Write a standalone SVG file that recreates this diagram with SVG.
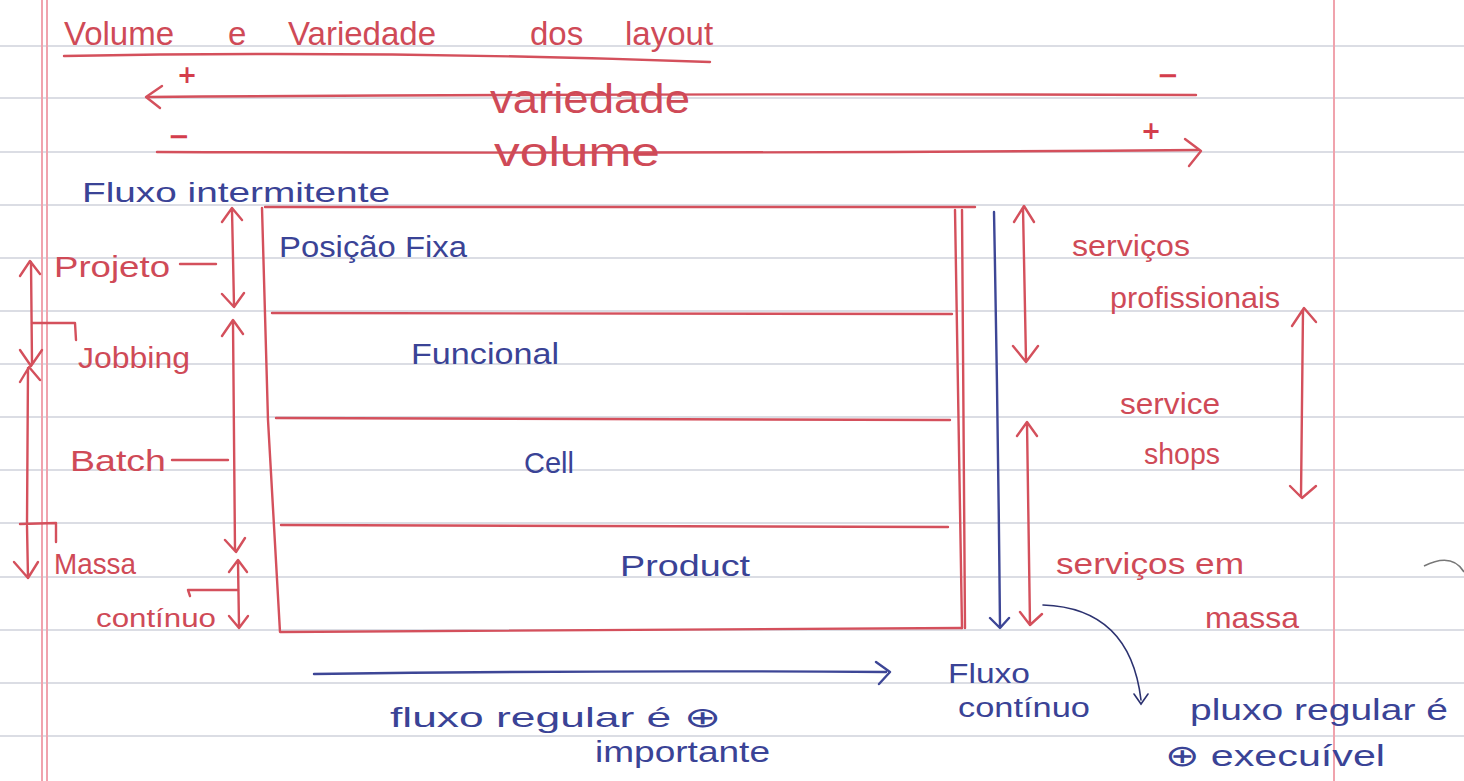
<svg xmlns="http://www.w3.org/2000/svg" width="1464" height="781" viewBox="0 0 1464 781">
<defs>
<style>
.rule{stroke:#9aa0b4;stroke-width:1;opacity:0.7}
.margin{stroke:#f0a3ad;stroke-width:2}
.r{fill:none;stroke:#d4505c;stroke-width:2.4;stroke-linecap:round;stroke-linejoin:round}
.b{fill:none;stroke:#3d4696;stroke-width:2.4;stroke-linecap:round;stroke-linejoin:round}
.bt{fill:none;stroke:#2c3270;stroke-width:1.6;stroke-linecap:round}
.tr{fill:#cf4a57;font-family:"Liberation Sans",Arial,sans-serif;font-weight:300}
.tb{fill:#3a4396;font-family:"Liberation Sans",Arial,sans-serif;font-weight:300}
.lbl{font-size:29px}
.sign{font-family:"DejaVu Sans",sans-serif;font-weight:bold;fill:#d43d4c}
</style>
</defs>
<rect width="1464" height="781" fill="#ffffff"/>
<g id="paper">
<line class="rule" x1="0" y1="46" x2="1464" y2="46"/>
<line class="rule" x1="0" y1="98" x2="1464" y2="98"/>
<line class="rule" x1="0" y1="152" x2="1464" y2="152"/>
<line class="rule" x1="0" y1="205" x2="1464" y2="205"/>
<line class="rule" x1="0" y1="258" x2="1464" y2="258"/>
<line class="rule" x1="0" y1="311" x2="1464" y2="311"/>
<line class="rule" x1="0" y1="364" x2="1464" y2="364"/>
<line class="rule" x1="0" y1="417" x2="1464" y2="417"/>
<line class="rule" x1="0" y1="470" x2="1464" y2="470"/>
<line class="rule" x1="0" y1="523" x2="1464" y2="523"/>
<line class="rule" x1="0" y1="577" x2="1464" y2="577"/>
<line class="rule" x1="0" y1="630" x2="1464" y2="630"/>
<line class="rule" x1="0" y1="683" x2="1464" y2="683"/>
<line class="rule" x1="0" y1="736" x2="1464" y2="736"/>
<line class="margin" x1="42" y1="0" x2="42" y2="781"/>
<line class="margin" x1="47" y1="0" x2="47" y2="781"/>
<line class="margin" x1="1334" y1="0" x2="1334" y2="781"/>
<path d="M1424 566 Q1452 552 1464 572" fill="none" stroke="#777" stroke-width="1.5"/>
</g>
<g id="title">
<text class="tr" y="45" font-size="33"><tspan x="64">Volume</tspan><tspan x="228">e</tspan><tspan x="288">Variedade</tspan><tspan x="530">dos</tspan><tspan x="625">layout</tspan></text>
<path class="r" d="M64 56 Q380 50 710 62" stroke-width="2"/>
</g>
<g id="scales">
<text class="sign" x="177" y="83" font-size="24">+</text>
<text class="sign" x="1157" y="84" font-size="26">−</text>
<path class="r" d="M1196 95 Q700 93 148 97"/>
<path class="r" d="M162 86 L146 97 L160 108"/>
<text class="tr" x="490" y="113" font-size="40" textLength="200" lengthAdjust="spacingAndGlyphs">variedade</text>
<text class="sign" x="168" y="145" font-size="26">−</text>
<text class="sign" x="1141" y="139" font-size="24">+</text>
<path class="r" d="M157 152 Q700 154 1198 150"/>
<path class="r" d="M1185 139 L1201 151 L1189 166"/>
<text class="tr" x="494" y="166" font-size="40" textLength="166" lengthAdjust="spacingAndGlyphs">volume</text>
</g>
<g id="fluxo-intermitente">
<text class="tb" x="82" y="202" font-size="28" textLength="308" lengthAdjust="spacingAndGlyphs">Fluxo  intermitente</text>
</g>
<g id="layout-box">
<path class="r" d="M265 207 L975 207"/>
<path class="r" d="M262 208 L268 420 L280 632 L962 628"/>
<path class="r" d="M955 210 L962 628 M962 210 L965 628" stroke-width="1.8"/>
<path class="r" d="M272 313 L952 314" stroke-width="1.8"/>
<path class="r" d="M276 418 L950 420" stroke-width="1.8"/>
<path class="r" d="M281 525 L948 527" stroke-width="1.8"/>
</g>
<g id="node-posicao-fixa"><text class="tb lbl" x="279" y="257" textLength="188" lengthAdjust="spacingAndGlyphs">Posição Fixa</text></g>
<g id="node-funcional"><text class="tb lbl" x="411" y="364" textLength="148" lengthAdjust="spacingAndGlyphs">Funcional</text></g>
<g id="node-cell"><text class="tb lbl" x="524" y="473" font-size="31" textLength="50" lengthAdjust="spacingAndGlyphs">Cell</text></g>
<g id="node-product"><text class="tb lbl" x="620" y="576" textLength="130" lengthAdjust="spacingAndGlyphs">Product</text></g>
<g id="labels-left">
<text class="tr lbl" x="54" y="277" textLength="116" lengthAdjust="spacingAndGlyphs">Projeto</text>
<text class="tr lbl" x="78" y="368" textLength="112" lengthAdjust="spacingAndGlyphs">Jobbing</text>
<text class="tr lbl" x="70" y="471" textLength="96" lengthAdjust="spacingAndGlyphs">Batch</text>
<text class="tr lbl" x="54" y="574" textLength="82" lengthAdjust="spacingAndGlyphs">Massa</text>
<text class="tr" x="96" y="627" font-size="25" textLength="120" lengthAdjust="spacingAndGlyphs">contínuo</text>
</g>
<g id="labels-right">
<text class="tr lbl" x="1072" y="256" textLength="118" lengthAdjust="spacingAndGlyphs">serviços</text>
<text class="tr lbl" x="1110" y="308" textLength="170" lengthAdjust="spacingAndGlyphs">profissionais</text>
<text class="tr lbl" x="1120" y="414" textLength="100" lengthAdjust="spacingAndGlyphs">service</text>
<text class="tr lbl" x="1144" y="464" textLength="76" lengthAdjust="spacingAndGlyphs">shops</text>
<text class="tr lbl" x="1056" y="574" textLength="188" lengthAdjust="spacingAndGlyphs">serviços   em</text>
<text class="tr lbl" x="1205" y="628" textLength="94" lengthAdjust="spacingAndGlyphs">massa</text>
</g>
<g id="labels-bottom">
<text class="tb" x="948" y="683" font-size="28" textLength="82" lengthAdjust="spacingAndGlyphs">Fluxo</text>
<text class="tb" x="958" y="717" font-size="27" textLength="132" lengthAdjust="spacingAndGlyphs">contínuo</text>
<text class="tb" x="390" y="727" font-size="28" textLength="330" lengthAdjust="spacingAndGlyphs">fluxo    regular    é   ⊕</text>
<text class="tb" x="595" y="762" font-size="29" textLength="175" lengthAdjust="spacingAndGlyphs">importante</text>
<text class="tb" x="1190" y="720" font-size="30" textLength="258" lengthAdjust="spacingAndGlyphs">pluxo regular é</text>
<text class="tb" x="1165" y="766" font-size="30" textLength="220" lengthAdjust="spacingAndGlyphs">⊕ execuível</text>
</g>
<g id="connectors">
<path class="r" d="M180 264 L216 264"/>
<path class="r" d="M232 210 L234 305 M222 222 L232 208 L242 220 M222 294 L234 307 L244 293"/>
<path class="r" d="M233 322 L235 550 M222 336 L233 320 L243 334 M225 540 L236 552 L245 538"/>
<path class="r" d="M172 460 L228 460"/>
<path class="r" d="M238 562 L239 626 M229 572 L238 560 L247 572 M229 616 L239 628 L248 616"/>
<path class="r" d="M188 590 L238 590 M188 590 L190 596"/>
<path class="r" d="M31 262 L32 364 M20 276 L30 261 L40 274 M20 350 L31 366 L42 350"/>
<path class="r" d="M32 323 L75 323 L76 340"/>
<path class="r" d="M28 368 L27 524 M20 382 L29 367 L40 380"/>
<path class="r" d="M20 524 L56 523 L56 542"/>
<path class="r" d="M27 526 L28 578 M14 562 L28 578 L38 562"/>
<path class="r" d="M1023 208 L1026 360 M1014 222 L1024 206 L1034 222 M1013 346 L1026 362 L1038 346" stroke-width="2"/>
<path class="r" d="M1303 310 L1301 496 M1292 326 L1304 308 L1316 322 M1290 486 L1302 498 L1316 486" stroke-width="2"/>
<path class="r" d="M1027 423 L1030 625 M1017 436 L1027 422 L1037 436 M1020 612 L1030 625 L1042 614" stroke-width="2"/>
<path class="b" d="M994 212 Q998 420 1000 626 M990 618 L1000 628 L1009 618"/>
<path class="b" d="M314 674 Q600 670 886 672 M876 662 L890 672 L879 684"/>
<path class="bt" d="M1043 605 Q1130 608 1141 700 M1134 694 L1141 704 L1148 694"/>
</g>
</svg>
